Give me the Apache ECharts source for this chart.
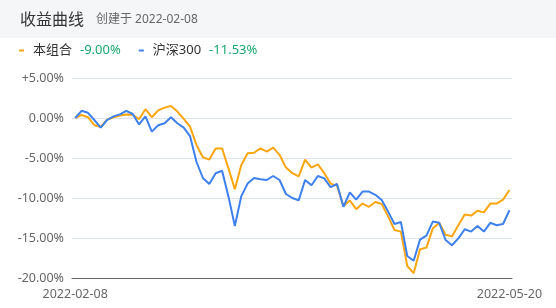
<!DOCTYPE html>
<html><head><meta charset="utf-8">
<script src="https://cdn.jsdelivr.net/npm/echarts@6/dist/echarts.min.js"></script>
<style>html,body{margin:0;padding:0;background:#fff}#c{width:556px;height:308px}</style>
</head><body><div id="c"></div>
<script>
var dates = [
 '2022-02-08','2022-02-09','2022-02-10','2022-02-11','2022-02-14','2022-02-15','2022-02-16','2022-02-17','2022-02-18','2022-02-21','2022-02-22','2022-02-23','2022-02-24','2022-02-25','2022-02-28',
 '2022-03-01','2022-03-02','2022-03-03','2022-03-04','2022-03-07','2022-03-08','2022-03-09','2022-03-10','2022-03-11','2022-03-14','2022-03-15','2022-03-16','2022-03-17','2022-03-18','2022-03-21','2022-03-22','2022-03-23','2022-03-24','2022-03-25','2022-03-28','2022-03-29','2022-03-30','2022-03-31',
 '2022-04-01','2022-04-06','2022-04-07','2022-04-08','2022-04-11','2022-04-12','2022-04-13','2022-04-14','2022-04-15','2022-04-18','2022-04-19','2022-04-20','2022-04-21','2022-04-22','2022-04-25','2022-04-26','2022-04-27','2022-04-28','2022-04-29',
 '2022-05-05','2022-05-06','2022-05-09','2022-05-10','2022-05-11','2022-05-12','2022-05-13','2022-05-16','2022-05-17','2022-05-18','2022-05-19','2022-05-20'
];
var portfolio = [
 0, 0.38, 0.1, -0.9, -1.1, -0.2, 0.1, 0.3, 0.45, 0.4, -0.15, 1.1, 0.1, 0.95, 1.3, 1.5, 0.8, -0.1, -1.1, -3.4,
 -4.9, -5.2, -3.8, -3.8, -6.3, -8.9, -5.9, -4.4, -4.35, -3.8, -4.2, -3.7, -4.6, -6.2, -6.9, -7.3, -5.2, -6.2, -5.8, -6.9,
 -8.2, -8.45, -11.0, -10.3, -11.4, -10.7, -11.1, -10.5, -10.75, -12.3, -14.0, -14.2, -18.5, -19.4, -16.4, -16.2, -13.8, -13.1, -14.6, -14.8,
 -13.4, -12.05, -12.2, -11.6, -11.8, -10.7, -10.7, -10.2, -9.00
];
var hs300 = [
 0, 0.9, 0.65, -0.25, -1.2, -0.25, 0.2, 0.45, 0.9, 0.5, -0.8, 0.2, -1.7, -0.9, -0.65, 0.1, -0.65, -1.2, -2.3, -5.5,
 -7.5, -8.25, -6.9, -6.6, -9.8, -13.5, -9.8, -8.2, -7.5, -7.65, -7.75, -7.25, -7.75, -9.5, -10.0, -10.3, -7.75, -8.4, -7.25, -7.55,
 -8.65, -8.25, -11.1, -9.3, -10.2, -9.2, -9.2, -9.6, -10.25, -11.7, -13.25, -13.0, -17.25, -17.85, -15.2, -14.7, -12.95, -13.1, -15.25, -15.9,
 -15.05, -13.9, -14.2, -13.5, -14.2, -13.1, -13.4, -13.25, -11.53
];
var seriesNames = ['本组合', '沪深300'];
var yTicks = [-20, -15, -10, -5, 0, 5];
var titleText = '收益曲线';
var subText = '创建于 2022-02-08';

function pct(v){ return (v > 0 ? '+' : '') + v.toFixed(2) + '%'; }
function toPts(arr){ return arr.map(function(v, i){ return [i, v]; }); }
var lastVals = {};
lastVals[seriesNames[0]] = portfolio[portfolio.length - 1];
lastVals[seriesNames[1]] = hs300[hs300.length - 1];

var chart = echarts.init(document.getElementById('c'), null, {renderer: 'canvas'});
var FONT = '"Noto Sans", "Noto Sans CJK SC", sans-serif';
chart.setOption({
  animation: false,
  textStyle: {fontFamily: FONT},
  graphic: [{type: 'rect', left: 0, top: 0, shape: {width: 556, height: 38}, style: {fill: '#f5f6f8'}, z: -1}],
  title: {
    left: 20, top: 9, padding: 0,
    text: '{a|' + titleText + '}{b|' + subText + '}',
    textStyle: {
      fontWeight: 'normal',
      rich: {
        a: {fontSize: 16, color: '#333', fontWeight: 'normal', lineHeight: 22, padding: [0, 12, 0, 0], fontFamily: FONT},
        b: {fontSize: 12, color: '#666', fontWeight: 'normal', lineHeight: 22, fontFamily: FONT}
      }
    }
  },
  legend: {
    left: 19, top: 44, padding: 0, itemGap: 18,
    icon: 'rect', itemWidth: 5, itemHeight: 2,
    data: seriesNames,
    formatter: function(name){ return '{n|' + name + '}{v|' + pct(lastVals[name]) + '}'; },
    textStyle: {
      padding: [0, 0, 0, 4],
      rich: {
        n: {fontSize: 13, color: '#333', padding: [0, 8, 0, 0], fontFamily: FONT},
        v: {fontSize: 13, color: '#1aa86f', fontFamily: FONT}
      }
    }
  },
  grid: {left: 72, right: 44, top: 78, bottom: 30},
  xAxis: {
    type: 'value', min: -0.5, max: 68.4,
    axisLine: {show: true, onZero: false, lineStyle: {color: '#666', width: 1}},
    axisTick: {show: false},
    splitLine: {show: false},
    axisLabel: {
      customValues: [0, dates.length - 1],
      formatter: function(v){ return dates[Math.round(v)]; },
      color: '#666', fontSize: 12.5, margin: 10, fontFamily: FONT
    }
  },
  yAxis: {
    type: 'value', min: yTicks[0], max: yTicks[yTicks.length - 1], interval: 5,
    axisLine: {show: false}, axisTick: {show: false},
    splitLine: {lineStyle: {color: '#dde3f1', width: 1}},
    axisLabel: {formatter: pct, color: '#666', fontSize: 12.5, margin: 8, fontFamily: FONT}
  },
  series: [
    {name: seriesNames[0], type: 'line', data: toPts(portfolio), showSymbol: false, symbol: 'none',
     lineStyle: {width: 2, color: '#fca60f'}, itemStyle: {color: '#fca60f'}, z: 2},
    {name: seriesNames[1], type: 'line', data: toPts(hs300), showSymbol: false, symbol: 'none',
     lineStyle: {width: 2, color: '#3d80ee'}, itemStyle: {color: '#3d80ee'}, z: 3}
  ]
});
</script></body></html>
